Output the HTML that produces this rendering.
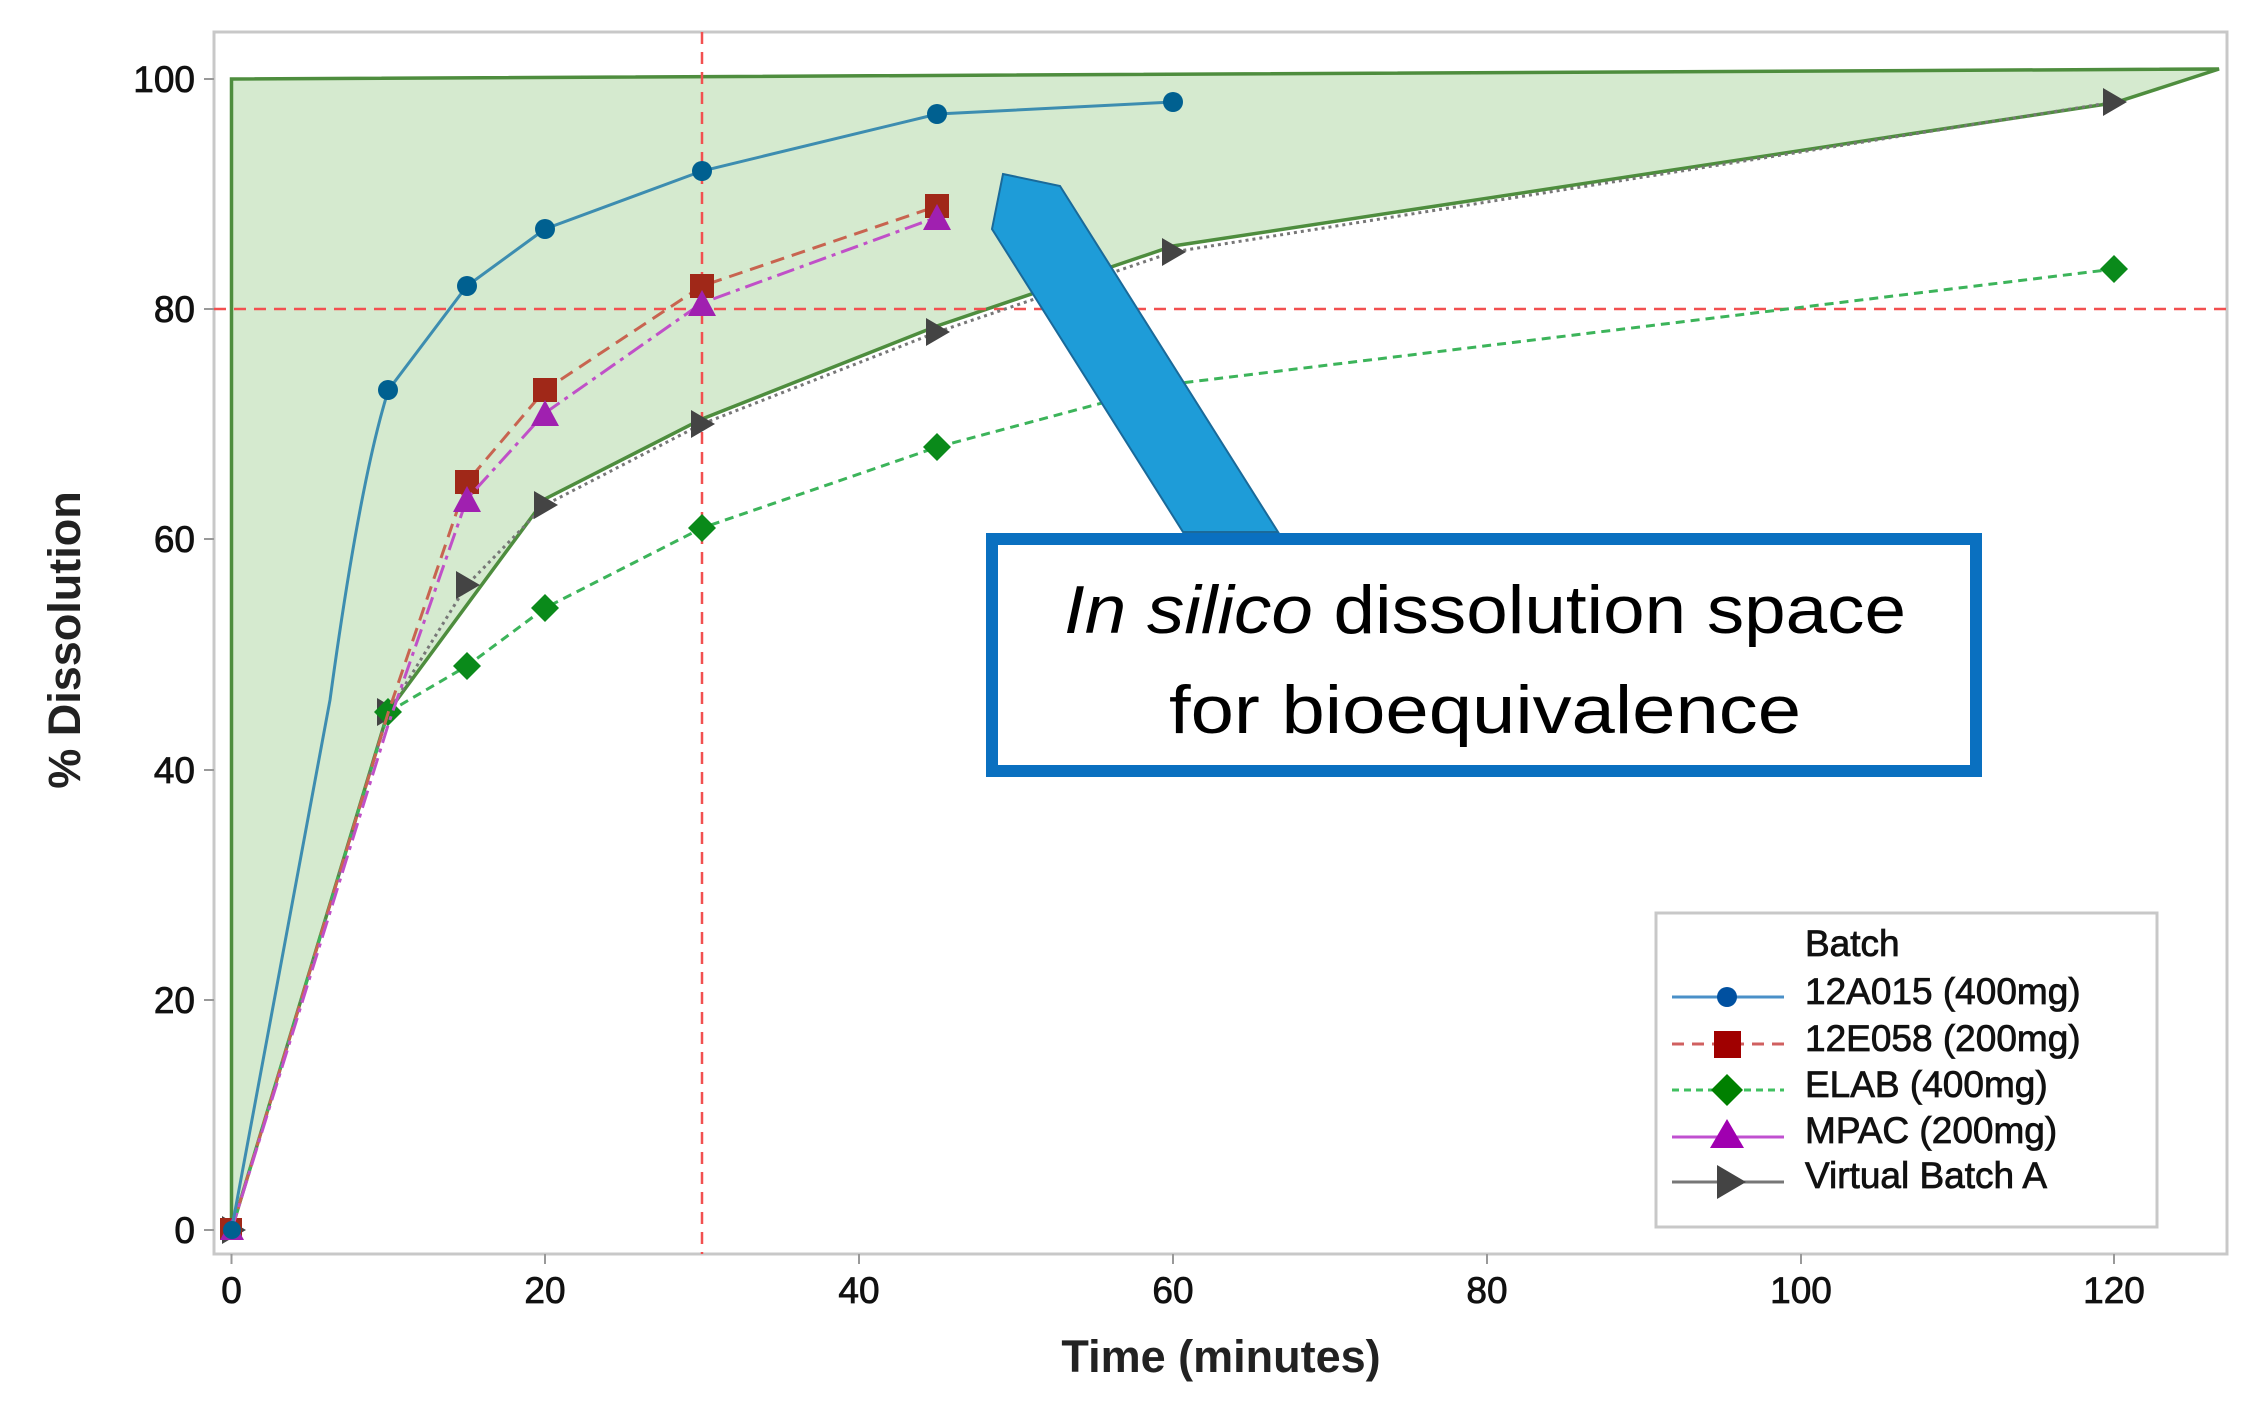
<!DOCTYPE html>
<html><head><meta charset="utf-8"><style>html,body{margin:0;padding:0;background:#fff}</style></head>
<body>
<svg width="2253" height="1402" xmlns="http://www.w3.org/2000/svg" font-family="Liberation Sans, sans-serif">
<rect width="2253" height="1402" fill="#fff"/>
<rect x="214" y="32" width="2013" height="1222" fill="none" stroke="#c8c8c8" stroke-width="3"/>
<polygon points="231.5,1230 231.5,79 2219,69 2114.6,102.8 1173,246 937,326 702,419 545,499 388,712" fill="#d5eacf" stroke="#4e8d3e" stroke-width="3.5"/>
<line x1="702" y1="32" x2="702" y2="1254" stroke="#f25050" stroke-width="2.5" stroke-dasharray="12,8"/>
<line x1="214" y1="309" x2="2227" y2="309" stroke="#f25050" stroke-width="2.5" stroke-dasharray="12,8"/>
<g stroke="#999" stroke-width="2">
<line x1="204" y1="79" x2="214" y2="79"/><line x1="204" y1="309" x2="214" y2="309"/><line x1="204" y1="539" x2="214" y2="539"/><line x1="204" y1="770" x2="214" y2="770"/><line x1="204" y1="1000" x2="214" y2="1000"/><line x1="204" y1="1230" x2="214" y2="1230"/>
<line x1="231.5" y1="1254" x2="231.5" y2="1264"/><line x1="545" y1="1254" x2="545" y2="1264"/><line x1="859" y1="1254" x2="859" y2="1264"/><line x1="1173" y1="1254" x2="1173" y2="1264"/><line x1="1487" y1="1254" x2="1487" y2="1264"/><line x1="1801" y1="1254" x2="1801" y2="1264"/><line x1="2114" y1="1254" x2="2114" y2="1264"/>
</g>
<g font-size="37" fill="#111" stroke="#111" stroke-width="0.8" text-anchor="end">
<text x="195" y="92">100</text><text x="195" y="322">80</text><text x="195" y="552">60</text><text x="195" y="783">40</text><text x="195" y="1013">20</text><text x="195" y="1243">0</text>
</g>
<g font-size="37" fill="#111" stroke="#111" stroke-width="0.8" text-anchor="middle">
<text x="231.5" y="1303">0</text><text x="545" y="1303">20</text><text x="859" y="1303">40</text><text x="1173" y="1303">60</text><text x="1487" y="1303">80</text><text x="1801" y="1303">100</text><text x="2114" y="1303">120</text>
</g>
<text x="1221" y="1372" font-size="45" font-weight="bold" text-anchor="middle" fill="#222">Time (minutes)</text>
<text transform="translate(80,640) rotate(-90)" font-size="45" font-weight="bold" text-anchor="middle" fill="#222">% Dissolution</text>
<polyline points="231.5,1230 388.4,712 466.9,585 545,505 702,424 937.5,332 1173,252 2114.6,102" fill="none" stroke="#777" stroke-width="3" stroke-dasharray="3,4"/>
<g fill="#444">
<polygon points="222,1216 246,1230 222,1244"/><polygon points="377,698 401,712 377,726"/><polygon points="456,571 480,585 456,599"/><polygon points="534,491 558,505 534,519"/><polygon points="691,410 715,424 691,438"/><polygon points="926,318 950,332 926,346"/><polygon points="1162,238 1186,252 1162,266"/><polygon points="2103,88 2127,102 2103,116"/>
</g>
<polyline points="231.5,1230 388.4,712 466.9,666 545,608 702,528 937.5,447 1173,384 2114.6,269" fill="none" stroke="#3cb45a" stroke-width="3" stroke-dasharray="9,6"/>
<g fill="#0a8a1a">
<polygon points="388,698 402,712 388,726 374,712"/><polygon points="467,652 481,666 467,680 453,666"/><polygon points="545,594 559,608 545,622 531,608"/><polygon points="702,514 716,528 702,542 688,528"/><polygon points="937,433 951,447 937,461 923,447"/><polygon points="2114,255 2128,269 2114,283 2100,269"/>
</g>
<polyline points="231.5,1230 388.4,712 466.9,482 545,390 702,286 937.5,206" fill="none" stroke="#c86450" stroke-width="3" stroke-dasharray="14,8"/>
<g fill="#a02818"><rect x="455" y="470" width="24" height="24"/><rect x="533" y="378" width="24" height="24"/><rect x="690" y="274" width="24" height="24"/><rect x="925" y="194" width="24" height="24"/><rect x="220" y="1218" width="22" height="22"/></g>
<polyline points="231.5,1230 388.4,724 466.9,499 545,413 702,303 937.5,217" fill="none" stroke="#c050c8" stroke-width="3" stroke-dasharray="18,6,4,6"/>
<g fill="#a020b0"><polygon points="467,486 481,512 453,512"/><polygon points="545,400 559,426 531,426"/><polygon points="702,290 716,316 688,316"/><polygon points="937,204 951,230 923,230"/><polygon points="232,1218 244,1240 220,1240"/></g>
<path d="M231.5,1230 L330,700 Q360,480 388.4,390 L466.9,286 L545,229 L702,171 L937.5,114 L1173,102" fill="none" stroke="#3d8db0" stroke-width="3"/>
<g fill="#006090"><circle cx="388" cy="390" r="10"/><circle cx="467" cy="286" r="10"/><circle cx="545" cy="229" r="10"/><circle cx="702" cy="171" r="10"/><circle cx="937" cy="114" r="10"/><circle cx="1173" cy="102" r="10"/><circle cx="232" cy="1230" r="9"/></g>
<polygon points="1003,174 1060,186 1278,532 1183,532 992,229" fill="#1e9cd8" stroke="#1a6a9a" stroke-width="2"/>
<rect x="992" y="539" width="984" height="232" fill="#fff" stroke="#0a70c0" stroke-width="12"/>
<text x="1485" y="633" font-size="68" text-anchor="middle" fill="#000" textLength="842" lengthAdjust="spacingAndGlyphs"><tspan font-style="italic">In silico</tspan> dissolution space</text>
<text x="1485" y="733" font-size="68" text-anchor="middle" fill="#000" textLength="632" lengthAdjust="spacingAndGlyphs">for bioequivalence</text>
<rect x="1656" y="913" width="501" height="314" fill="#fff" stroke="#c8c8c8" stroke-width="3"/>
<g font-size="37" fill="#111" stroke="#111" stroke-width="0.8">
<text x="1805" y="956">Batch</text>
<text x="1805" y="1004">12A015 (400mg)</text>
<text x="1805" y="1051">12E058 (200mg)</text>
<text x="1805" y="1097">ELAB (400mg)</text>
<text x="1805" y="1143">MPAC (200mg)</text>
<text x="1805" y="1188">Virtual Batch A</text>
</g>
<line x1="1672" y1="997" x2="1784" y2="997" stroke="#4a90c8" stroke-width="3"/><circle cx="1727" cy="997" r="10" fill="#0050a0"/>
<line x1="1672" y1="1044" x2="1784" y2="1044" stroke="#d06060" stroke-width="3" stroke-dasharray="12,8"/><rect x="1714" y="1031" width="27" height="27" fill="#a00000"/>
<line x1="1672" y1="1090" x2="1784" y2="1090" stroke="#40c060" stroke-width="3" stroke-dasharray="7,5"/><polygon points="1727,1074 1743,1090 1727,1106 1711,1090" fill="#008000"/>
<line x1="1672" y1="1137" x2="1784" y2="1137" stroke="#c050d0" stroke-width="3"/><polygon points="1727,1119 1744,1148 1710,1148" fill="#a000b0"/>
<line x1="1672" y1="1182" x2="1784" y2="1182" stroke="#777" stroke-width="3"/><polygon points="1717,1165 1746,1182 1717,1199" fill="#444"/>
</svg>
</body></html>
